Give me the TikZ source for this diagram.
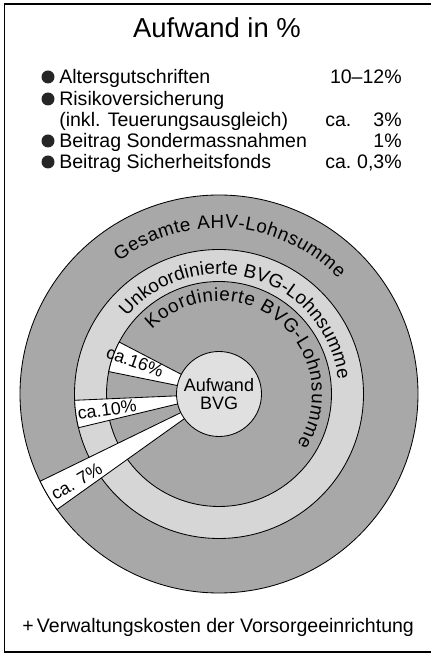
\documentclass[tikz,border=0pt]{standalone}
\usepackage{fontspec}
\setmainfont{Liberation Sans}
\usetikzlibrary{decorations.text,positioning}
\definecolor{ringdark}{gray}{0.66}
\definecolor{ringlight}{gray}{0.84}
\definecolor{hubgray}{gray}{0.88}
\newcommand{\legfont}{\fontsize{13.9}{15}\selectfont}
\newcommand{\arcfont}{\fontsize{13.4}{14}\selectfont}
\tikzset{%
	ring/.style     = {draw, line width=0.6pt}, % Lohnsumme rings
	wedge/.style    = {draw, fill=white, line width=0.6pt}, % Aufwand slices
	hub/.style      = {draw, circle, fill=hubgray, line width=0.6pt, minimum size=21.25mm, inner sep=0pt, align=center, font=\fontsize{12.8}{12.8}\selectfont},
	legtext/.style  = {anchor=base west, inner sep=0pt, font=\legfont},
	legval/.style   = {anchor=base east, inner sep=0pt, font=\legfont},
	dot/.style      = {circle, fill=black!85, inner sep=0pt, minimum size=3.25mm},
	wlabel/.style   = {inner sep=0pt, font=\fontsize{12.6}{13}\selectfont},
	arctext/.style  = {decorate, decoration={text along path, text align=fit to path, text format delimiters={|}{|}}},
}

\begin{document}
\begin{tikzpicture}[x=0.25mm,y=0.25mm]
	\useasboundingbox (0,0) rectangle (433,657);
	\draw[line width=1pt] (431,653) -- (4.5,653) -- (4.5,5) -- (431,5);
	
	% title and legend
	\node[anchor=base, inner sep=0pt, font=\fontsize{19.5}{20}\selectfont] (title) at (217,619) {Aufwand in \%};
	
	\node[legtext] (alt) at (59,573) {Altersgutschriften};
	\node[legtext] (risk) at (59,551) {Risikoversicherung};
	\node[legtext] (teu) at (59,530) {(inkl. Teuerungsausgleich)};
	\node[legtext] (sond) at (59,509) {Beitrag Sondermassnahmen};
	\node[legtext] (sich) at (59,488) {Beitrag Sicherheitsfonds};
	\node[dot] (d1) at (48,580) {};
	\node[dot] (d2) at (48,558) {};
	\node[dot] (d4) at (48,516) {};
	\node[dot] (d5) at (48,495) {};
	\node[legval] (v1) at (402,573) {10--12\%};
	\node[legtext] (ca3) at (325,530) {ca.};
	\node[legval] (v3) at (402,530) {3\%};
	\node[legval] (v4) at (402,509) {1\%};
	\node[legtext] (ca5) at (325,488) {ca.};
	\node[legval] (v5) at (402,488) {0,3\%};
	
	% rings
	\coordinate (c) at (219,263);
	\filldraw[ring, fill=ringdark] (c) circle (199);
	\filldraw[ring, fill=ringlight] (c) circle (144.5);
	\filldraw[ring, fill=ringdark] (c) circle (112.5);
	
	\filldraw[wedge] (c) -- ++(152.5:112.5) arc[start angle=152.5, end angle=168.5, radius=112.5] -- cycle;
	\filldraw[wedge] (c) -- ++(182.5:144.5) arc[start angle=182.5, end angle=193.5, radius=144.5] -- cycle;
	\filldraw[wedge] (c) -- ++(206:199) arc[start angle=206, end angle=215.5, radius=199] -- cycle;
	
	\node[hub] (bvg) at (c) {Aufwand\\BVG};
	
	\node[wlabel, rotate=-19.5] (p16) at ([shift={(159:90)}]c) {ca.16\%};
	\node[wlabel, rotate=8] (p10) at ([shift={(188:113)}]c) {ca.10\%};
	\node[wlabel, rotate=30.5] (p7) at ([shift={(211.5:167)}]c) {ca. 7\%};
	
	\path[arctext, decoration={text={|\arcfont|Gesamte AHV-Lohnsumme}}]
		([shift={(127:166)}]c) arc[start angle=127, end angle=44, radius=166];
	\path[arctext, decoration={text={|\arcfont|Unkoordinierte BVG-Lohnsumme}}]
		([shift={(140:120)}]c) arc[start angle=140, end angle=7, radius=120];
	\path[arctext, decoration={text={|\arcfont|Koordinierte BVG-Lohnsumme}}]
		([shift={(136:93)}]c) arc[start angle=136, end angle=-33, radius=93];
	
	\node[legtext] (verw) at (22,25) {+\,Verwaltungskosten der Vorsorgeeinrichtung};
\end{tikzpicture}
\end{document}
